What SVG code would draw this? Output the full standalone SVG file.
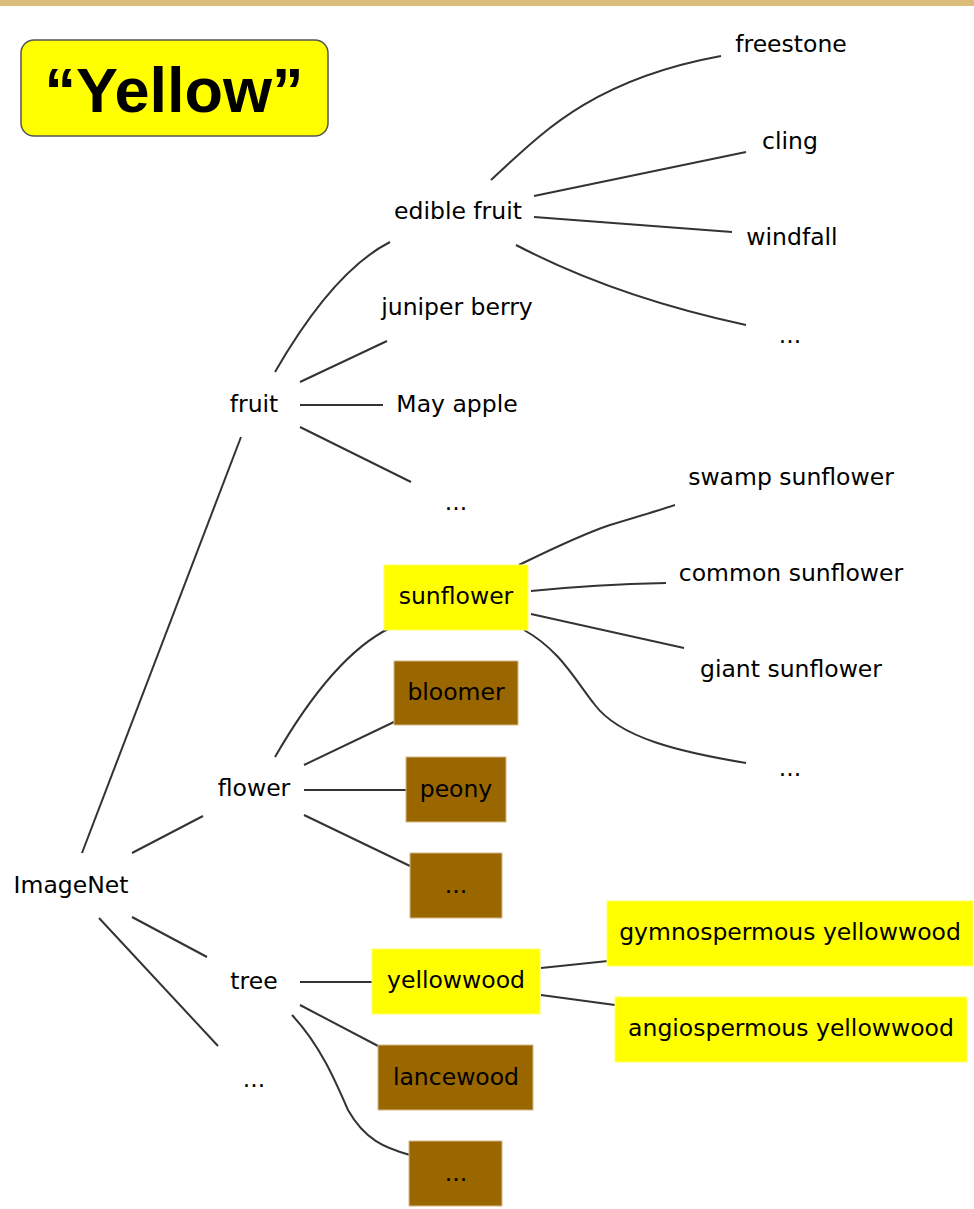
<svg xmlns="http://www.w3.org/2000/svg" width="974" height="1209" viewBox="0 0 974 1209">
<style>
text{font-family:"DejaVu Sans",Verdana,sans-serif;font-size:23.5px;fill:#000;text-anchor:middle;dominant-baseline:central}
.c path,.c line{stroke:#333;stroke-width:2;fill:none}
.y{fill:#ffff00;stroke:#ffff66;stroke-width:1}
.b{fill:#996600;stroke:#d8b888;stroke-width:1}
</style>
<rect x="0" y="0" width="974" height="6" fill="#dbbc7a"/>
<g id="title">
<rect x="21" y="40" width="307" height="96" rx="13" fill="#ffff00" stroke="#555" stroke-width="1.5"/>
<text x="174" y="90" style="font-family:'Liberation Sans',Arial,sans-serif;font-weight:bold;font-size:63px">“Yellow”</text>
</g>
<g class="c" id="connectors">
<line x1="82" y1="853" x2="241" y2="437"/>
<line x1="132" y1="853" x2="203" y2="816"/>
<line x1="132" y1="917" x2="207" y2="957"/>
<line x1="99" y1="918" x2="218" y2="1046"/>
<path d="M275,372 C305,320 345,265 390,242"/>
<line x1="300" y1="382" x2="387" y2="341"/>
<line x1="300" y1="405" x2="383" y2="405"/>
<line x1="300" y1="427" x2="411" y2="482"/>
<path d="M491,180 C540,135 590,80 721,56"/>
<line x1="534" y1="196" x2="746" y2="152"/>
<line x1="534" y1="217" x2="732" y2="232"/>
<path d="M516,245 C560,268 630,300 746,325"/>
<path d="M275,757 C305,705 345,650 390,628"/>
<line x1="304" y1="765" x2="396" y2="721"/>
<line x1="304" y1="790" x2="406" y2="790"/>
<line x1="304" y1="815" x2="410" y2="866"/>
<path d="M519,565 C550,550 580,535 610,525 C640,516 660,510 675,505"/>
<path d="M531,591 C580,586 620,584 666,583"/>
<line x1="531" y1="614" x2="684" y2="648"/>
<path d="M524,630 C560,650 575,680 595,705 C620,738 680,752 746,763"/>
<line x1="300" y1="982" x2="372" y2="982"/>
<line x1="300" y1="1005" x2="380" y2="1047"/>
<path d="M292,1015 C320,1045 335,1080 348,1110 C365,1140 385,1148 410,1155"/>
<line x1="541" y1="968" x2="608" y2="961"/>
<line x1="541" y1="995" x2="615" y2="1005"/>
</g>
<g id="imagenet"><text x="71" y="885">ImageNet</text></g>
<g id="fruit"><text x="254" y="404">fruit</text></g>
<g id="flower"><text x="254" y="788">flower</text></g>
<g id="tree"><text x="254" y="981">tree</text></g>
<g id="root-more"><text x="254" y="1079">...</text></g>
<g id="edible-fruit"><text x="458" y="211">edible fruit</text></g>
<g id="juniper-berry"><text x="457" y="307">juniper berry</text></g>
<g id="may-apple"><text x="457" y="404">May apple</text></g>
<g id="fruit-more"><text x="456" y="502">...</text></g>
<g id="freestone"><text x="791" y="44">freestone</text></g>
<g id="cling"><text x="790" y="141">cling</text></g>
<g id="windfall"><text x="792" y="237">windfall</text></g>
<g id="edible-more"><text x="790" y="335">...</text></g>
<g id="sunflower"><rect class="y" x="384" y="565" width="144" height="65"/><text x="456" y="596">sunflower</text></g>
<g id="bloomer"><rect class="b" x="394" y="661" width="124" height="64"/><text x="456" y="692">bloomer</text></g>
<g id="peony"><rect class="b" x="406" y="757" width="100" height="65"/><text x="456" y="789">peony</text></g>
<g id="flower-more"><rect class="b" x="410" y="853" width="92" height="65"/><text x="456" y="885">...</text></g>
<g id="swamp-sunflower"><text x="791" y="477">swamp sunflower</text></g>
<g id="common-sunflower"><text x="791" y="573">common sunflower</text></g>
<g id="giant-sunflower"><text x="791" y="669">giant sunflower</text></g>
<g id="sunflower-more"><text x="790" y="768">...</text></g>
<g id="yellowwood"><rect class="y" x="372" y="949" width="168" height="65"/><text x="456" y="980">yellowwood</text></g>
<g id="lancewood"><rect class="b" x="378" y="1045" width="155" height="65"/><text x="456" y="1077">lancewood</text></g>
<g id="tree-more"><rect class="b" x="409" y="1141" width="93" height="65"/><text x="456" y="1173">...</text></g>
<g id="gymnospermous"><rect class="y" x="607" y="901" width="366" height="65"/><text x="790" y="932">gymnospermous yellowwood</text></g>
<g id="angiospermous"><rect class="y" x="615" y="997" width="352" height="65"/><text x="791" y="1028">angiospermous yellowwood</text></g>
</svg>
